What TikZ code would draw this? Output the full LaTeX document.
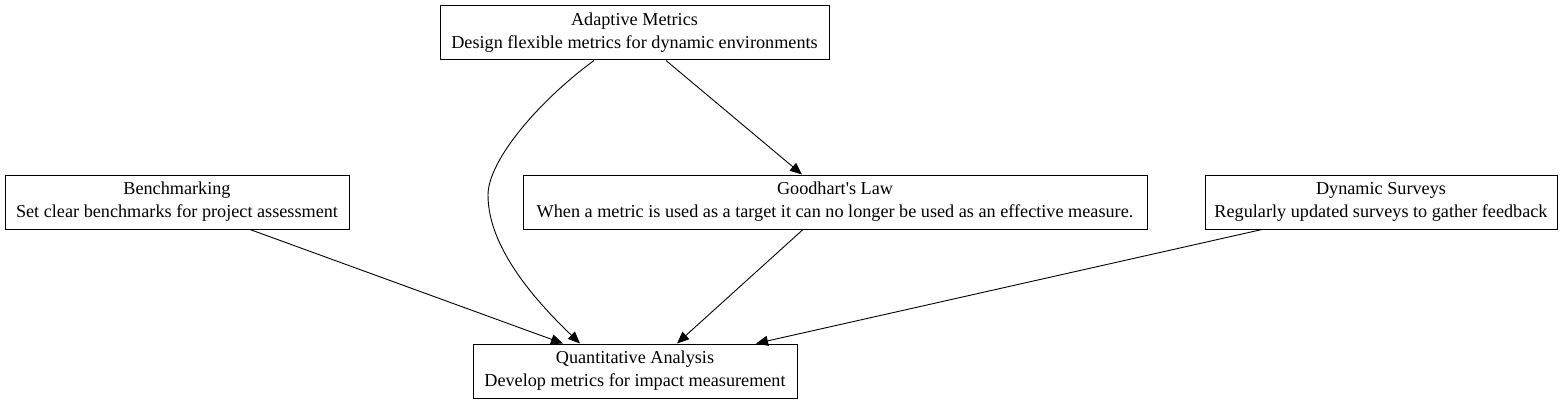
\documentclass[tikz,border=0pt]{standalone}
\usepackage{fontspec}
\setmainfont{Liberation Serif}[Ligatures=TeXOff]
\usetikzlibrary{arrows.meta,calc}
\begin{document}
\begin{tikzpicture}[x=1pt,y=-1pt,
  box/.style={draw,line width=1pt,rectangle,align=center,inner sep=0pt,minimum height=54pt,font=\fontsize{18.2}{23}\selectfont},
  edge/.style={line width=0.9pt,-{Triangle[length=12pt,width=10pt]}}]
\useasboundingbox (0,0) rectangle (1563,404);
\node[box,minimum width=389pt] (am) at (634.5,33) {Adaptive Metrics\\Design flexible metrics for dynamic environments};
\node[box,minimum width=344pt] (bm) at (177,202) {Benchmarking\\Set clear benchmarks for project assessment};
\node[box,minimum width=624pt] (gl) at (835,202) {Goodhart's Law\\When a metric is used as a target it can no longer be used as an effective measure.};
\node[box,minimum width=352pt] (ds) at (1381,202) {Dynamic Surveys\\Regularly updated surveys to gather feedback};
\node[box,minimum width=324pt] (qa) at (635,371) {Quantitative Analysis\\Develop metrics for impact measurement};
\draw[edge] ($(am.south)+(-40.5,0)$) .. controls (540,100) and (488,160) .. (488,195) .. controls (488,250) and (540,305) .. ($(qa.north)+(-55,0)$);
\draw[edge] ($(am.south)+(31.5,0)$) -- ($(gl.north)+(-33,0)$);
\draw[edge] ($(bm.south)+(73,0)$) -- ($(qa.north)+(-72,0)$);
\draw[edge] ($(gl.south)+(-32,0)$) -- ($(qa.north)+(42,0)$);
\draw[edge] ($(ds.south)+(-119,0)$) -- ($(qa.north)+(121,0)$);
\end{tikzpicture}
\end{document}
